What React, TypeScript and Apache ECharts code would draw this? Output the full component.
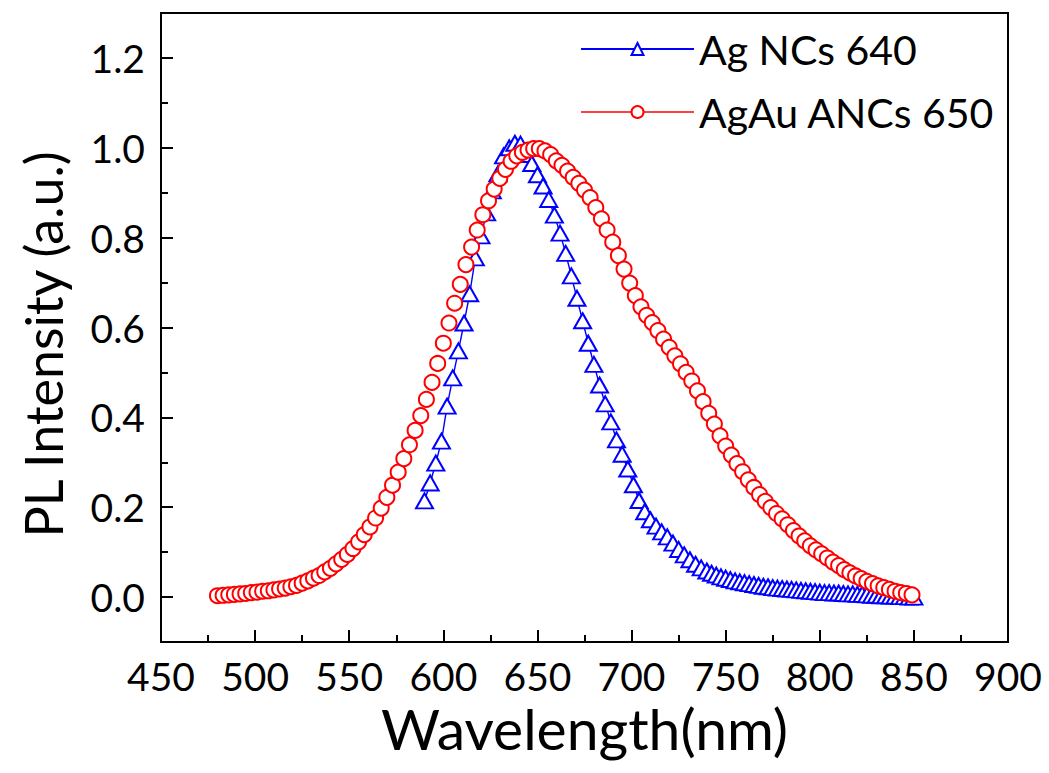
import React, { useEffect, useRef } from "react";
import * as echarts from "echarts";

// Ag NCs 640 : [wavelength (nm), PL intensity]
const agNCs640: [number, number][] = [
  [590, 0.214], [593, 0.254], [596, 0.298], [599, 0.347], [602, 0.425], [605, 0.488],
  [608, 0.548], [611, 0.61], [614, 0.675], [617, 0.755], [620, 0.804], [623, 0.855],
  [626, 0.904], [629, 0.942], [632, 0.982], [635, 1.0], [638, 1.01], [641, 1.008],
  [644, 0.985], [647, 0.965], [650, 0.94], [653, 0.915], [656, 0.885], [659, 0.85],
  [662, 0.81], [665, 0.765], [668, 0.715], [671, 0.665], [674, 0.615], [677, 0.565],
  [680, 0.518], [683, 0.472], [686, 0.43], [689, 0.39], [692, 0.35], [695, 0.318],
  [698, 0.285], [701, 0.25], [704, 0.215], [707, 0.19], [710, 0.172], [713, 0.158],
  [716, 0.145], [719, 0.134], [722, 0.12], [725, 0.106], [728, 0.094], [731, 0.083],
  [734, 0.073], [737, 0.065], [740, 0.058], [742.5, 0.053], [745, 0.049], [747.5, 0.045],
  [750, 0.042], [752.5, 0.039], [755, 0.036], [757.5, 0.034], [760, 0.032], [762.5, 0.03],
  [765, 0.028], [767.5, 0.026], [770, 0.024], [772.5, 0.023], [775, 0.021], [777.5, 0.02],
  [780, 0.019], [782.5, 0.018], [785, 0.017], [787.5, 0.016], [790, 0.015], [792.5, 0.014],
  [795, 0.013], [797.5, 0.012], [800, 0.011], [802.5, 0.01], [805, 0.01], [807.5, 0.009],
  [810, 0.009], [812.5, 0.008], [815, 0.007], [817.5, 0.007], [820, 0.006], [822.5, 0.006],
  [825, 0.005], [827.5, 0.004], [830, 0.004], [832.5, 0.003], [835, 0.003], [837.5, 0.002],
  [840, 0.002], [842.5, 0.001], [845, 0.001], [847.5, 0.0], [850, 0.0],
];

// AgAu ANCs 650 : [wavelength (nm), PL intensity]
const agAuANCs650: [number, number][] = [
  [480, 0.003], [483, 0.004], [486, 0.005], [489, 0.006], [492, 0.007], [495, 0.008],
  [498, 0.01], [501, 0.011], [504, 0.013], [507, 0.014], [510, 0.016], [513, 0.018],
  [516, 0.02], [519, 0.023], [522, 0.026], [525, 0.031], [528, 0.036], [531, 0.042],
  [534, 0.048], [537, 0.056], [540, 0.064], [543, 0.074], [546, 0.084], [549, 0.095],
  [552, 0.108], [555, 0.123], [558, 0.139], [561, 0.156], [564, 0.176], [567, 0.198],
  [570, 0.222], [573, 0.249], [576, 0.278], [579, 0.308], [582, 0.339], [585, 0.371],
  [588, 0.404], [591, 0.44], [594, 0.478], [597, 0.52], [600, 0.565], [603, 0.61],
  [606, 0.654], [609, 0.696], [612, 0.74], [615, 0.779], [618, 0.817], [621, 0.851],
  [624, 0.882], [627, 0.908], [630, 0.932], [633, 0.952], [636, 0.97], [639, 0.982],
  [642, 0.99], [645, 0.995], [648, 0.998], [651, 0.998], [654, 0.993], [657, 0.985],
  [660, 0.971], [663, 0.961], [666, 0.948], [669, 0.934], [672, 0.921], [675, 0.906],
  [678, 0.889], [681, 0.867], [684, 0.842], [687, 0.817], [690, 0.79], [693, 0.76],
  [696, 0.73], [699, 0.699], [702, 0.671], [705, 0.646], [708, 0.627], [711, 0.611],
  [714, 0.593], [717, 0.574], [720, 0.556], [723, 0.537], [726, 0.519], [729, 0.5],
  [732, 0.481], [735, 0.459], [738, 0.435], [741, 0.409], [744, 0.385], [747, 0.359],
  [750, 0.336], [753, 0.316], [756, 0.297], [759, 0.279], [762, 0.261], [765, 0.244],
  [768, 0.228], [771, 0.213], [774, 0.199], [777, 0.186], [780, 0.174], [783, 0.161],
  [786, 0.148], [789, 0.136], [792, 0.125], [795, 0.114], [798, 0.105], [801, 0.096],
  [804, 0.087], [807, 0.078], [810, 0.07], [813, 0.061], [816, 0.054], [819, 0.047],
  [822, 0.041], [825, 0.035], [828, 0.03], [831, 0.025], [834, 0.021], [837, 0.017],
  [840, 0.013], [843, 0.01], [846, 0.008], [849, 0.005],
];

const seriesNames = ["Ag NCs 640", "AgAu ANCs 650"];
const yMajorTicks = [0, 0.2, 0.4, 0.6, 0.8, 1.0, 1.2];
const xRange = [450, 900];
const yRange = [-0.1, 1.3];

const FONT = "Lato";

export default function App() {
  const ref = useRef<HTMLDivElement>(null);

  useEffect(() => {
    if (!ref.current) return;
    const chart = echarts.init(ref.current, null, { renderer: "svg" });
    const black = "#000";
    const tickLine = { color: black, width: 2 };
    chart.setOption({
      animation: false,
      backgroundColor: "#fff",
      textStyle: { fontFamily: FONT, color: black },
      grid: {
        left: 161,
        right: 41,
        top: 13,
        bottom: 131,
        show: true,
        borderColor: black,
        borderWidth: 2,
        backgroundColor: "transparent",
        containLabel: false,
        outerBoundsMode: "none",
      },
      legend: {
        orient: "vertical",
        left: 580,
        top: 27,
        padding: 0,
        itemWidth: 113,
        itemHeight: 15,
        itemGap: 19,
        selectedMode: false,
        data: [
          { name: seriesNames[0] },
          { name: seriesNames[1], lineStyle: { opacity: 1, width: 1.6 } },
        ],
        textStyle: { fontSize: 41, lineHeight: 44, color: black, fontFamily: FONT },
      },
      xAxis: {
        type: "value",
        min: xRange[0],
        max: xRange[1],
        interval: 50,
        name: "Wavelength(nm)",
        nameLocation: "middle",
        nameGap: 55,
        nameTextStyle: { fontSize: 57, color: black, fontFamily: FONT },
        axisLine: { show: true, onZero: false, lineStyle: tickLine },
        axisTick: { show: true, inside: true, length: 12, lineStyle: tickLine },
        minorTick: { show: true, splitNumber: 2, length: 7, lineStyle: tickLine },
        axisLabel: { fontSize: 39, color: black, margin: 14, fontFamily: FONT },
        splitLine: { show: false },
        minorSplitLine: { show: false },
      },
      yAxis: [
        {
          type: "value",
          min: yRange[0],
          max: yRange[1],
          position: "left",
          name: "PL Intensity (a.u.)",
          nameLocation: "middle",
          nameGap: 92,
          nameRotate: 90,
          nameTextStyle: { fontSize: 52, color: black, fontFamily: FONT, padding: [0, 34, 0, 0] },
          axisLine: { show: true, onZero: false, lineStyle: tickLine },
          axisTick: { show: true, inside: true, length: 12, customValues: yMajorTicks, lineStyle: tickLine },
          axisLabel: {
            customValues: yMajorTicks,
            formatter: (v: number) => v.toFixed(1),
            fontSize: 39,
            color: black,
            margin: 16,
            fontFamily: FONT,
          },
          splitLine: { show: false },
        },
        {
          type: "value",
          min: yRange[0],
          max: yRange[1],
          interval: 0.1,
          position: "left",
          axisLine: { show: false, onZero: false },
          axisTick: { show: true, inside: true, length: 7, lineStyle: tickLine },
          axisLabel: { show: false },
          splitLine: { show: false },
        },
      ],
      series: [
        {
          name: seriesNames[0],
          type: "line",
          data: agNCs640,
          symbol: "emptyTriangle",
          symbolSize: [17, 15],
          color: "#0000ff",
          lineStyle: { color: "#0000ff", width: 1.4 },
          itemStyle: { color: "#0000ff", borderColor: "#0000ff", borderWidth: 2 },
          emphasis: { disabled: true },
          silent: true,
        },
        {
          name: seriesNames[1],
          type: "line",
          data: agAuANCs650,
          symbol: "emptyCircle",
          symbolSize: 15,
          color: "#ff0000",
          lineStyle: { color: "#ff0000", width: 1.4, opacity: 0 },
          itemStyle: { color: "#ff0000", borderColor: "#ff0000", borderWidth: 2 },
          emphasis: { disabled: true },
          silent: true,
        },
      ],
    });
    return () => chart.dispose();
  }, []);

  return (
    <div
      ref={ref}
      style={{ position: "fixed", left: 0, top: 0, width: 1049, height: 773 }}
    />
  );
}
